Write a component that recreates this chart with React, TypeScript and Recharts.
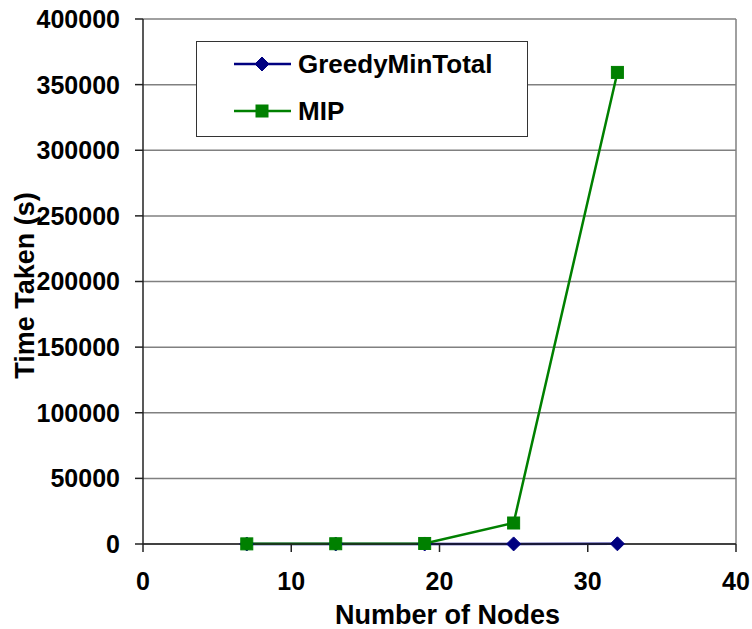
import React from "react";
import {
  CartesianGrid,
  Legend,
  Line,
  LineChart,
  ReferenceLine,
  XAxis,
  YAxis,
} from "recharts";

const NODES = [7, 13, 19, 25, 32];
const GREEDY = [1, 5, 20, 60, 150];
const MIP = [100, 200, 400, 16000, 359300];
const X_TICKS = [0, 10, 20, 30, 40];
const Y_TICKS = [0, 50000, 100000, 150000, 200000, 250000, 300000, 350000, 400000];

const NAVY = "#000080";
const GREEN = "#008000";
const FONT = '"Liberation Sans", Arial, sans-serif';

const data = NODES.map((n, i) => ({ n, greedy: GREEDY[i], mip: MIP[i] }));

const Diamond = (props: any) => {
  const { cx, cy } = props;
  if (cx == null || cy == null) return null;
  const r = 7;
  return (
    <path
      d={`M${cx},${cy - r}L${cx + r},${cy}L${cx},${cy + r}L${cx - r},${cy}Z`}
      fill={NAVY}
      stroke={NAVY}
    />
  );
};

const Square = (props: any) => {
  const { cx, cy } = props;
  if (cx == null || cy == null) return null;
  const h = 6;
  return <rect x={cx - h} y={cy - h} width={h * 2} height={h * 2} fill={GREEN} stroke={GREEN} />;
};

const LegendBox = () => (
  <div
    style={{
      width: 332,
      height: 96,
      boxSizing: "border-box",
      border: "1.5px solid #333",
      background: "#fff",
    }}
  >
    <svg width={330} height={93} style={{ display: "block" }}>
      <line x1={37} x2={94} y1={22} y2={22} stroke={NAVY} strokeWidth={2.5} />
      <Diamond cx={65} cy={22} />
      <text x={101} y={22} dominantBaseline="central" fontFamily={FONT} fontWeight="bold" fontSize={26}>
        GreedyMinTotal
      </text>
      <line x1={37} x2={94} y1={69} y2={69} stroke={GREEN} strokeWidth={2.5} />
      <Square cx={65} cy={69} />
      <text x={101} y={69} dominantBaseline="central" fontFamily={FONT} fontWeight="bold" fontSize={26}>
        MIP
      </text>
    </svg>
  </div>
);

const YTitle = (props: any) => {
  const { viewBox } = props;
  const y = viewBox.y + viewBox.height / 2 + 4;
  return (
    <text
      x={34}
      y={y}
      transform={`rotate(-90, 34, ${y})`}
      textAnchor="middle"
      fontFamily={FONT}
      fontWeight="bold"
      fontSize={27}
      fill="#000"
    >
      Time Taken (s)
    </text>
  );
};

const tickStyle = { fontFamily: FONT, fontWeight: "bold", fontSize: 25, fill: "#000" };

export default function App() {
  return (
    <div style={{ position: "absolute", left: 0, top: 0, width: 752, height: 629, background: "#fff" }}>
      <LineChart width={752} height={629} data={data} margin={{ top: 19, right: 16, left: 0, bottom: 0 }}>
        <CartesianGrid vertical={false} stroke="#808080" strokeWidth={1.5} />
        <ReferenceLine x={40} stroke="#808080" strokeWidth={1.5} />
        <XAxis
          dataKey="n"
          type="number"
          domain={[0, 40]}
          ticks={X_TICKS}
          height={85}
          tickSize={8}
          tickMargin={20}
          tick={tickStyle}
          stroke="#222"
          strokeWidth={1.5}
          label={{
            value: "Number of Nodes",
            position: "insideBottom",
            offset: 5,
            dx: 8,
            style: { fontFamily: FONT, fontWeight: "bold", fontSize: 27, fill: "#000" },
          }}
        />
        <YAxis
          type="number"
          domain={[0, 400000]}
          ticks={Y_TICKS}
          width={143}
          tickSize={8}
          tickMargin={15}
          tick={tickStyle}
          stroke="#222"
          strokeWidth={1.5}
          label={<YTitle />}
        />
        <Legend
          layout="horizontal"
          verticalAlign="middle"
          align="center"
          content={() => <LegendBox />}
          wrapperStyle={{ left: 196, top: 41, width: 332, height: 96 }}
        />
        <Line
          dataKey="greedy"
          name="GreedyMinTotal"
          stroke={NAVY}
          strokeWidth={2.5}
          dot={<Diamond />}
          activeDot={false}
          isAnimationActive={false}
        />
        <Line
          dataKey="mip"
          name="MIP"
          stroke={GREEN}
          strokeWidth={2.5}
          dot={<Square />}
          activeDot={false}
          isAnimationActive={false}
        />
      </LineChart>
    </div>
  );
}
